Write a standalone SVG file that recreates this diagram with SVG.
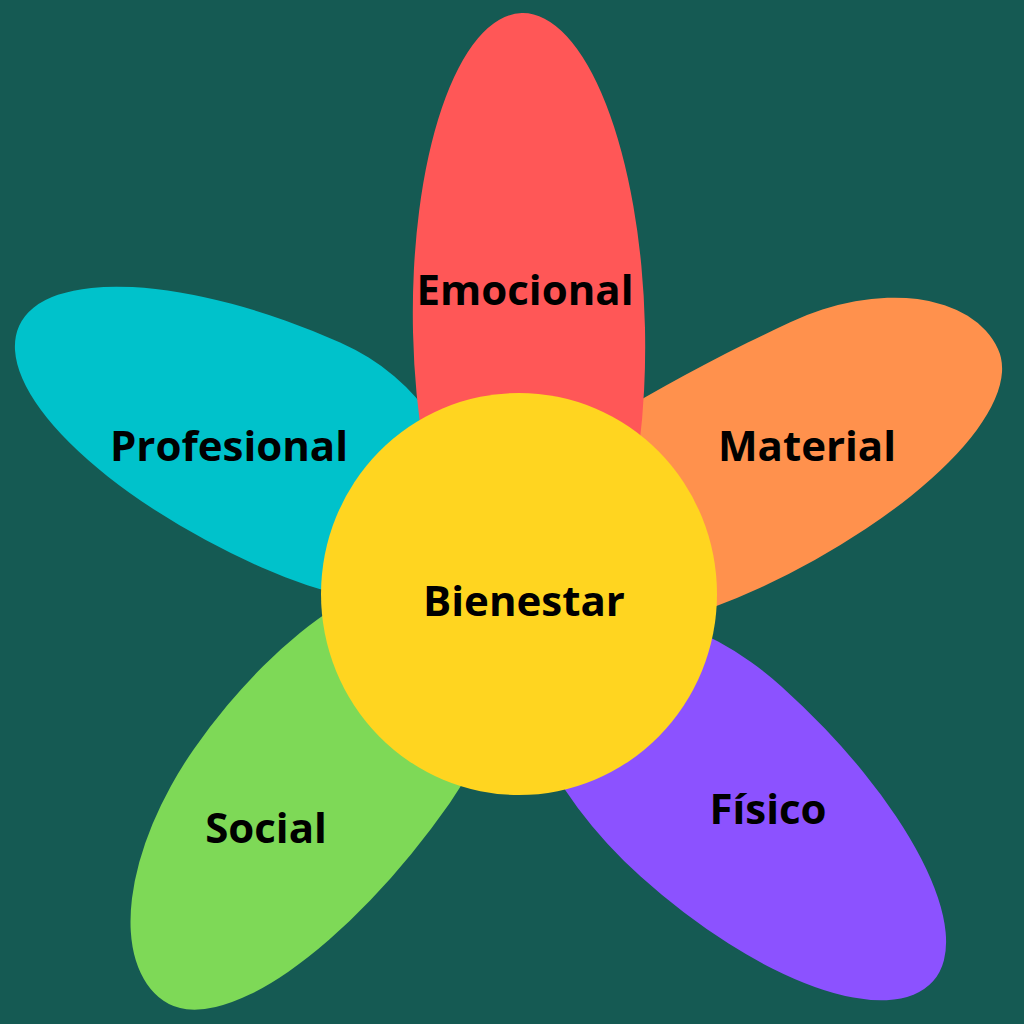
<svg xmlns="http://www.w3.org/2000/svg" width="1024" height="1024" viewBox="0 0 1024 1024">
  <style>
    .lbl { font-family: "Open Sans", "Liberation Sans", sans-serif; font-weight: 700; font-size: 42px; fill: #000; text-anchor: middle; }
  </style>
  <rect width="1024" height="1024" fill="#155A53"/>
  <g id="connectors"/>
  <g id="profesional">
    <path fill="#00C2CB" transform="rotate(24)" d="M150,290 A300,115.5 0 0 1 450,174.5 A165,115.5 0 0 1 615,290 L720,290 A250,122 0 0 1 470,412 A320,122 0 0 1 150,290 Z"/>
    <text class="lbl" x="229" y="461">Profesional</text>
  </g>
  <g id="material">
    <path fill="#FF914D" transform="rotate(-25)" d="M757,738 A177,112 0 0 0 580,626 A480,112 0 0 0 100,738 L190,738 A250,116 0 0 0 440,854 A317,116 0 0 0 757,738 Z"/>
    <text class="lbl" x="807" y="461">Material</text>
  </g>
  <g id="social">
    <path fill="#7ED957" transform="rotate(125)" d="M726,-708 A224,119.5 0 0 1 502,-588.5 A280,119.5 0 0 1 222,-708 L200,-708 A200,121 0 0 1 400,-829 A326,121 0 0 1 726,-708 Z"/>
    <text class="lbl" x="266" y="843">Social</text>
  </g>
  <g id="fisico">
    <path fill="#8C52FF" transform="rotate(42)" d="M1350,105 A310,117.8 0 0 0 1040,-12.8 A200,117.8 0 0 0 840,105 L820,105 A243,117.7 0 0 0 1063,222.7 A287,117.7 0 0 0 1350,105 Z"/>
    <text class="lbl" x="768" y="824">Físico</text>
  </g>
  <g id="emocional">
    <ellipse fill="#FF5757" cx="529" cy="330" rx="116" ry="317" transform="rotate(-1.3 529 330)"/>
    <text class="lbl" x="525" y="305">Emocional</text>
  </g>
  <g id="bienestar">
    <ellipse cx="519" cy="594" rx="198" ry="201" fill="#FFD520"/>
    <text class="lbl" x="524" y="616">Bienestar</text>
  </g>
</svg>
